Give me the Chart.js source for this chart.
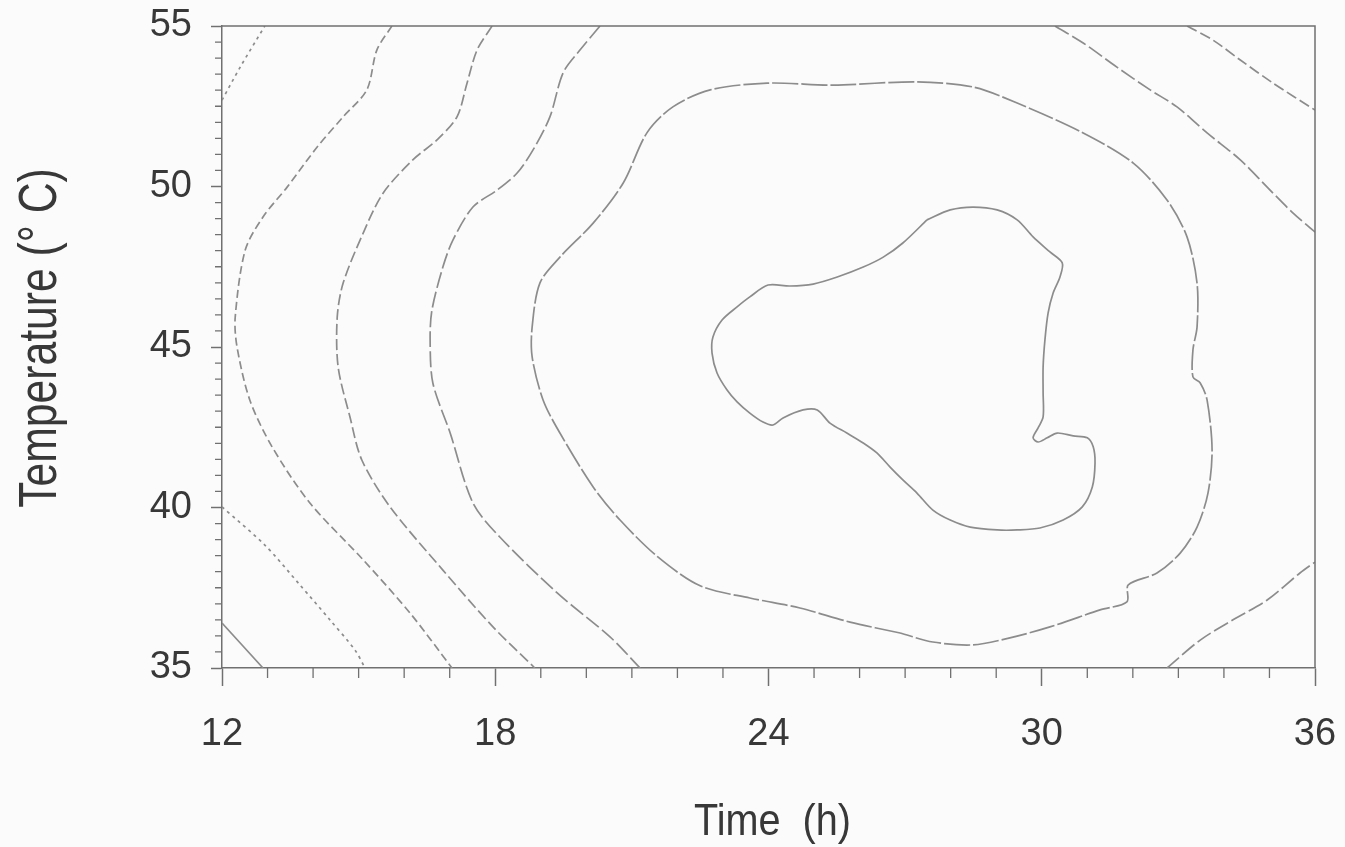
<!DOCTYPE html>
<html>
<head>
<meta charset="utf-8">
<script src="https://cdn.jsdelivr.net/npm/chart.js@4/dist/chart.umd.min.js"></script>
<style>
  html, body { margin: 0; padding: 0; background: #fbfbfb; }
  #wrap { width: 1345px; height: 847px; }
</style>
</head>
<body>
<div id="wrap"><canvas id="contourChart" width="1345" height="847"></canvas></div>
<script>
// axis ranges and tick values
const xRange = [12, 36];
const yRange = [35, 55];
const xMajorTicks = [12, 18, 24, 30, 36];
const yMajorTicks = [35, 40, 45, 50, 55];
const xMinorStep = 1;
const yMinorStep = 0.5;
const xTitle = 'Time  (h)';
const yTitle = 'Temperature (° C)';

// contour lines, [time (h), temperature (C)]
const ringA = [[27.48,48.96],[27.99,49.27],[28.49,49.36],[29.02,49.27],[29.46,48.96],[29.81,48.43],[30.18,47.96],[30.45,47.62],[30.40,47.18],[30.25,46.68],[30.14,46.06],[30.07,45.22],[30.03,44.38],[30.03,43.57],[30.03,42.82],[29.92,42.48],[29.81,42.17],[29.92,42.04],[30.12,42.17],[30.34,42.32],[30.69,42.23],[31.00,42.17],[31.13,41.89],[31.17,41.39],[31.11,40.64],[30.89,40.02],[30.47,39.61],[29.96,39.36],[29.46,39.30],[29.02,39.30],[28.43,39.39],[27.99,39.61],[27.61,39.92],[27.26,40.45],[26.95,40.86],[26.67,41.26],[26.38,41.70],[26.08,42.01],[25.72,42.32],[25.35,42.63],[25.07,43.04],[24.76,43.04],[24.32,42.79],[24.10,42.57],[23.88,42.66],[23.59,42.94],[23.31,43.29],[23.09,43.66],[22.87,44.19],[22.76,44.81],[22.78,45.31],[22.98,45.84],[23.31,46.25],[23.59,46.56],[23.99,46.93],[24.47,46.90],[24.98,46.96],[25.51,47.18],[26.08,47.49],[26.52,47.80],[26.95,48.24]];

const ringB = [[26.89,36.09],[25.79,36.43],[24.69,36.87],[23.59,37.18],[22.50,37.56],[21.57,38.46],[20.74,39.61],[20.15,40.64],[19.42,42.32],[19.05,43.35],[18.81,44.69],[18.81,45.62],[18.98,46.99],[19.42,47.80],[20.15,48.86],[20.81,50.11],[21.33,51.67],[21.90,52.48],[22.72,53.01],[23.97,53.22],[25.42,53.16],[27.26,53.26],[28.49,53.10],[29.46,52.60],[30.91,51.67],[32.01,50.73],[32.75,49.58],[33.19,48.43],[33.41,46.99],[33.41,45.62],[33.32,44.91],[33.32,44.07],[33.48,43.88],[33.63,43.35],[33.74,41.79],[33.65,40.45],[33.41,39.39],[33.04,38.58],[32.53,37.96],[31.90,37.59],[31.87,37.06],[31.28,36.81],[30.18,36.28],[29.30,35.94],[28.49,35.72],[27.61,35.81]];

const levelCLeft = [[20.30,55.00],[19.86,54.25],[19.49,53.54],[19.20,52.17],[18.83,51.14],[18.48,50.42],[18.04,49.89],[17.51,49.36],[17.07,48.33],[16.85,47.49],[16.61,46.15],[16.57,45.22],[16.63,43.88],[17.01,42.32],[17.51,40.14],[18.10,39.08],[19.36,37.34],[20.52,35.97],[21.18,35.00]];
const levelCUpper = [[30.29,55.00],[30.91,54.47],[31.65,53.72],[32.38,53.01],[32.97,52.48],[33.63,51.67],[34.36,50.83],[34.95,49.98],[35.52,49.17],[36.00,48.58]];
const levelCLower = [[32.75,35.00],[33.48,35.87],[34.20,36.50],[34.95,37.12],[35.67,37.96],[36.00,38.30]];

const levelDLeft = [[17.93,55.00],[17.60,54.25],[17.38,53.22],[17.16,52.17],[16.72,51.45],[16.19,50.83],[15.54,49.80],[15.10,48.55],[14.66,46.99],[14.53,45.93],[14.55,44.38],[14.81,42.82],[15.07,41.48],[15.69,40.02],[16.85,38.05],[17.95,36.28],[18.87,35.00]];
const levelDUpper = [[33.19,55.00],[33.76,54.56],[34.36,53.94],[35.08,53.22],[36.00,52.38]];

const levelELeft = [[15.73,55.00],[15.40,54.25],[15.18,53.01],[14.66,52.17],[14.09,51.23],[13.43,49.98],[12.90,49.05],[12.51,48.02],[12.29,45.93],[12.33,45.00],[12.61,43.35],[13.10,41.89],[13.93,40.14],[15.10,38.37],[16.13,36.71],[17.05,35.00]];

const levelFUpper = [[12.00,52.69],[12.40,53.72],[12.94,55.00]];
const levelFLower = [[12.00,40.02],[12.94,38.83],[13.71,37.59],[14.37,36.50],[14.92,35.56],[15.14,35.00]];

const levelGCorner = [[12.00,36.40],[12.90,35.00]];

const lineColor = '#8c8c8c';
const axisColor = '#707070';
const textColor = '#383838';

function contour(points, dash, closed) {
  const pts = closed ? points.concat([points[0]]) : points;
  return {
    data: pts.map(p => ({ x: p[0], y: p[1] })),
    showLine: true,
    borderColor: lineColor,
    borderWidth: 1.7,
    borderDash: dash,
    pointRadius: 0,
    tension: 0.3,
    fill: false
  };
}

// minor ticks, top/right frame and the (condensed) axis titles
const framePlugin = {
  id: 'frame',
  afterDraw(chart) {
    const { ctx, chartArea, scales } = chart;
    ctx.save();
    ctx.strokeStyle = axisColor;
    ctx.lineWidth = 1.5;
    ctx.beginPath();
    ctx.moveTo(chartArea.left, chartArea.top);
    ctx.lineTo(chartArea.right, chartArea.top);
    ctx.lineTo(chartArea.right, chartArea.bottom);
    ctx.stroke();

    ctx.lineWidth = 1.3;
    ctx.beginPath();
    for (let v = xRange[0]; v <= xRange[1]; v += xMinorStep) {
      if (xMajorTicks.includes(v)) continue;
      const px = scales.x.getPixelForValue(v);
      ctx.moveTo(px, chartArea.bottom);
      ctx.lineTo(px, chartArea.bottom + 10);
    }
    for (let v = yRange[0]; v <= yRange[1]; v += yMinorStep) {
      if (yMajorTicks.includes(v)) continue;
      const py = scales.y.getPixelForValue(v);
      ctx.moveTo(chartArea.left - 7, py);
      ctx.lineTo(chartArea.left, py);
    }
    ctx.stroke();

    ctx.fillStyle = textColor;
    ctx.textAlign = 'center';
    ctx.textBaseline = 'middle';

    ctx.save();
    ctx.translate(41, (chartArea.top + chartArea.bottom) / 2 - 9);
    ctx.rotate(-Math.PI / 2);
    ctx.scale(0.79, 1);
    ctx.font = "54px 'Liberation Sans', Arial, sans-serif";
    ctx.fillText(yTitle, 0, 0);
    ctx.restore();

    ctx.save();
    ctx.translate((chartArea.left + chartArea.right) / 2 + 4, 823);
    ctx.scale(0.9, 1);
    ctx.font = "44px 'Liberation Sans', Arial, sans-serif";
    ctx.fillText(xTitle, 0, 0);
    ctx.restore();

    ctx.restore();
  }
};

const ctx = document.getElementById('contourChart').getContext('2d');

new Chart(ctx, {
  type: 'scatter',
  data: {
    datasets: [
      contour(ringA, [], true),
      contour(ringB, [26, 3], true),
      contour(levelCLeft, [16, 4], false),
      contour(levelCUpper, [16, 4], false),
      contour(levelCLower, [16, 4], false),
      contour(levelDLeft, [11, 4], false),
      contour(levelDUpper, [11, 4], false),
      contour(levelELeft, [8, 4], false),
      contour(levelFUpper, [3, 4], false),
      contour(levelFLower, [3, 4], false),
      contour(levelGCorner, [], false)
    ]
  },
  options: {
    responsive: false,
    animation: false,
    layout: { padding: { left: 0, right: 30, top: 26, bottom: 0 } },
    plugins: {
      legend: { display: false },
      tooltip: { enabled: false }
    },
    scales: {
      x: {
        type: 'linear',
        min: xRange[0],
        max: xRange[1],
        afterBuildTicks: scale => { scale.ticks = xMajorTicks.map(v => ({ value: v })); },
        afterFit: scale => {
          scale.height = 179;
          scale.paddingLeft = 0;
          scale.paddingRight = 0;
        },
        ticks: {
          color: textColor,
          padding: 26,
          maxRotation: 0,
          font: { family: "'Liberation Sans', Arial, sans-serif", size: 38 }
        },
        grid: { drawOnChartArea: false, tickLength: 18, tickColor: axisColor, tickWidth: 1.5 },
        border: { color: axisColor, width: 1.5 },
        title: { display: false, text: xTitle }
      },
      y: {
        type: 'linear',
        min: yRange[0],
        max: yRange[1],
        afterBuildTicks: scale => { scale.ticks = yMajorTicks.map(v => ({ value: v })); },
        afterFit: scale => {
          scale.width = 222;
          scale.paddingTop = 0;
          scale.paddingBottom = 0;
        },
        ticks: {
          color: textColor,
          padding: 19,
          font: { family: "'Liberation Sans', Arial, sans-serif", size: 38 }
        },
        grid: { drawOnChartArea: false, tickLength: 11, tickColor: axisColor, tickWidth: 1.5 },
        border: { color: axisColor, width: 1.5 },
        title: { display: false, text: yTitle }
      }
    }
  },
  plugins: [framePlugin]
});
</script>
</body>
</html>
